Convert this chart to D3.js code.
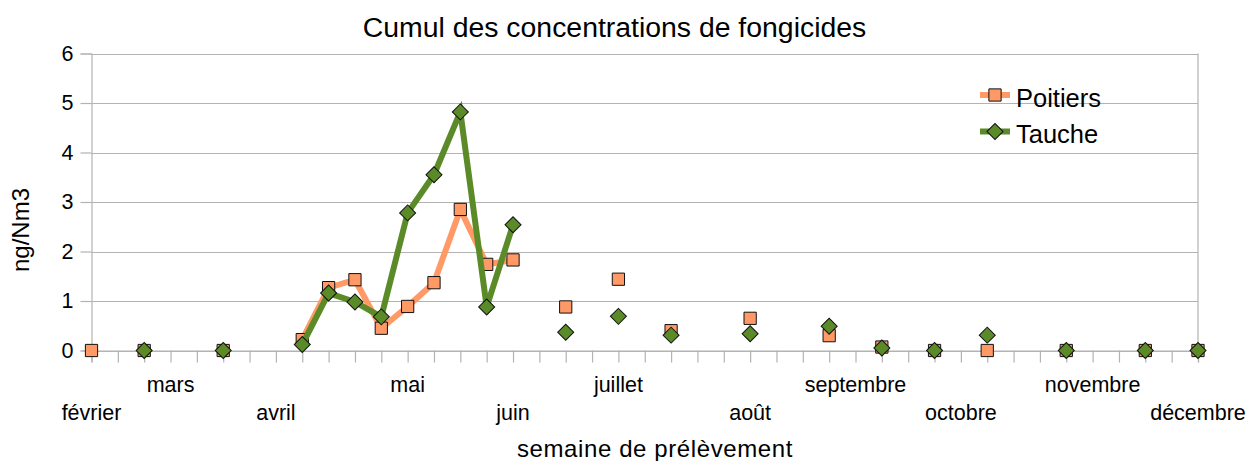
<!DOCTYPE html>
<html>
<head>
<meta charset="utf-8">
<script src="https://cdn.jsdelivr.net/npm/d3@7"></script>
<style>
  html, body { margin: 0; padding: 0; background: #fff; }
  svg { display: block; font-family: "Liberation Sans", Arial, sans-serif; }
</style>
</head>
<body>
<svg id="chart" width="1248" height="461"></svg>
<script>
// ---- data ----
const title = "Cumul des concentrations de fongicides";
const xTitle = "semaine de prélèvement";
const yTitle = "ng/Nm3";
const weeks = d3.range(43); // weekly sampling slots, Feb -> Dec
const monthLabels = ["février", "", "", "mars", "", "", "", "avril", "", "", "", "", "mai", "", "", "", "juin", "", "", "", "juillet", "", "", "", "", "août", "", "", "", "septembre", "", "", "", "octobre", "", "", "", "", "novembre", "", "", "", "décembre"];
const poitiers = [0, null, 0, null, null, 0, null, null, 0.22, 1.27, 1.43, 0.45, 0.89, 1.37, 2.85, 1.74, 1.83, null, 0.88, null, 1.44, null, 0.40, null, null, 0.65, null, null, 0.30, null, 0.07, null, 0, null, 0, null, null, 0, null, null, 0, null, 0];
const tauche = [null, null, 0, null, null, 0, null, null, 0.12, 1.16, 0.98, 0.68, 2.78, 3.55, 4.82, 0.88, 2.54, null, 0.37, null, 0.69, null, 0.31, null, null, 0.34, null, null, 0.49, null, 0.05, null, 0, null, 0.31, null, null, 0, null, null, 0, null, 0];
const yTicks = [0, 1, 2, 3, 4, 5, 6];
const seriesNames = ["Poitiers", "Tauche"];

// ---- layout ----
const svg = d3.select("#chart");
const pLeft = 91.5, pRight = 1198, pTop = 53.5, pBottom = 350.5;
const x = d3.scalePoint().domain(weeks).range([pLeft, pRight]);
const y = d3.scaleLinear().domain([0, 6]).range([pBottom, pTop]);
const gridColor = "#b3b3b3";
const orange = "#ff9966", green = "#5b8a29";

// gridlines
svg.append("g").selectAll("line").data(yTicks).join("line")
  .attr("x1", pLeft).attr("x2", pRight)
  .attr("y1", d => Math.round(y(d)) + 0.5).attr("y2", d => Math.round(y(d)) + 0.5)
  .attr("stroke", gridColor).attr("stroke-width", 1.2);

// y axis
const yAxis = svg.append("g").attr("transform", `translate(${pLeft},0)`)
  .call(d3.axisLeft(y).tickValues(yTicks).tickSize(11).tickPadding(7).tickFormat(d3.format("d")));
yAxis.select(".domain").attr("stroke", gridColor).attr("stroke-width", 1.2);
yAxis.selectAll(".tick line").attr("stroke", gridColor).attr("stroke-width", 1.2);
yAxis.selectAll(".tick text").attr("font-size", "21.5px").attr("fill", "#000")
  .attr("font-family", "Liberation Sans, Arial, sans-serif");

// right border
svg.append("line").attr("x1", pRight).attr("x2", pRight).attr("y1", pTop).attr("y2", pBottom)
  .attr("stroke", gridColor).attr("stroke-width", 1.2);

// x axis
const xAxis = svg.append("g").attr("transform", `translate(0,${pBottom})`)
  .call(d3.axisBottom(x).tickSize(12).tickFormat(""));
xAxis.select(".domain").attr("stroke", gridColor).attr("stroke-width", 1.2);
xAxis.selectAll(".tick line").attr("stroke", gridColor).attr("stroke-width", 1.2);

// staggered month labels
const shown = weeks.filter(i => monthLabels[i] !== "");
svg.append("g").selectAll("text").data(shown).join("text")
  .attr("x", d => x(d))
  .attr("y", (d, k) => k % 2 === 0 ? 420 : 392)
  .attr("text-anchor", "middle")
  .attr("font-size", "21.5px")
  .text(d => monthLabels[d]);

// series
function drawSeries(values, color, rot, size) {
  const pts = weeks.map(i => ({ i, v: values[i] }));
  const line = d3.line().defined(d => d.v !== null).x(d => x(d.i)).y(d => y(d.v));
  svg.append("path").datum(pts).attr("d", line)
    .attr("fill", "none").attr("stroke", color).attr("stroke-width", 6)
    .attr("stroke-linejoin", "miter");
  const sym = d3.symbol().type(d3.symbolSquare).size(size);
  svg.append("g").selectAll("path").data(pts.filter(d => d.v !== null)).join("path")
    .attr("d", sym)
    .attr("transform", d => `translate(${x(d.i)},${y(d.v)}) rotate(${rot})`)
    .attr("fill", color).attr("stroke", "#111").attr("stroke-width", 1);
}
drawSeries(poitiers, orange, 0, 150);
drawSeries(tauche, green, 45, 128);

// legend
const legend = svg.append("g");
[[orange, 95, 150, 0], [green, 131.5, 128, 45]].forEach((c, k) => {
  legend.append("line").attr("x1", 980).attr("x2", 1010).attr("y1", c[1]).attr("y2", c[1])
    .attr("stroke", c[0]).attr("stroke-width", 6);
  legend.append("path").attr("d", d3.symbol().type(d3.symbolSquare).size(c[2]))
    .attr("transform", `translate(995,${c[1]}) rotate(${c[3]})`)
    .attr("fill", c[0]).attr("stroke", "#111").attr("stroke-width", 1);
  legend.append("text").attr("x", 1016).attr("y", c[1] + 11.5)
    .attr("font-size", "25.5px").text(seriesNames[k]);
});

// titles
svg.append("text").attr("x", 614.5).attr("y", 37).attr("text-anchor", "middle")
  .attr("font-size", "28.4px").text(title);
svg.append("text").attr("x", 655).attr("y", 457).attr("text-anchor", "middle")
  .attr("font-size", "24px").attr("letter-spacing", "0.6px").text(xTitle);
svg.append("text").attr("transform", "translate(29,230) rotate(-90)").attr("text-anchor", "middle")
  .attr("font-size", "24px").text(yTitle);
</script>
</body>
</html>
